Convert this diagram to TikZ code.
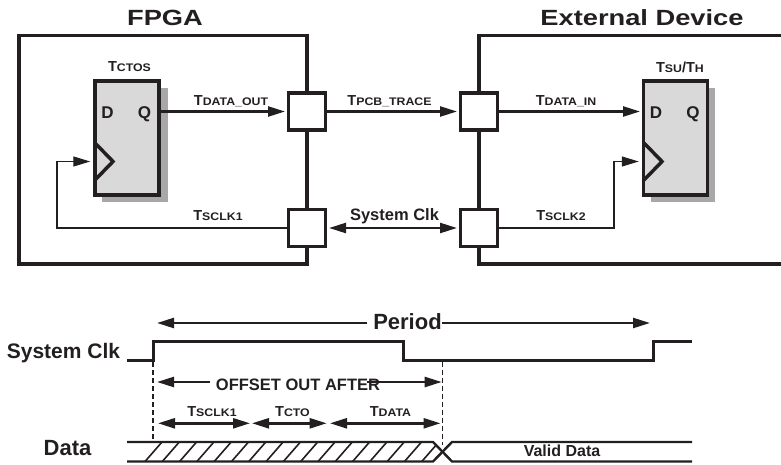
\documentclass[tikz,border=0pt]{standalone}
\usepackage{fontspec}
\setmainfont{Liberation Sans}
\newfontfamily\titlefam[FakeStretch=1.24]{Liberation Sans}
\newfontfamily\subfam[FakeStretch=1.12]{Liberation Sans}
\usetikzlibrary{arrows.meta}
\definecolor{ink}{HTML}{231F20}
\definecolor{fffill}{HTML}{D9D9D9}
\definecolor{ffshadow}{HTML}{A8A8A8}
\newcommand{\Tsub}[1]{{\bfseries\fontsize{14.5}{14.5}\selectfont T}{\subfam\bfseries\fontsize{11}{11}\selectfont #1}}
\newcommand{\Tslash}{{\bfseries\fontsize{14.5}{14.5}\selectfont /}}
\begin{document}
\begin{tikzpicture}[x=1pt,y=-1pt,color=ink,
  boxline/.style={draw=ink,line width=3.5pt},
  pad/.style={draw=ink,fill=white,line width=3.5pt,minimum size=37pt,inner sep=0pt},
  ffbox/.style={draw=ink,fill=fffill,line width=3.5pt,minimum width=64pt,minimum height=114pt,inner sep=0pt},
  tip/.tip={Triangle[length=17pt,width=10pt]},
  sig/.style={draw=ink,line width=2.4pt,-tip},
  dsig/.style={draw=ink,line width=2.4pt,tip-tip},
  thinsig/.style={draw=ink,line width=1.2pt,-tip},
  lbl/.style={text=ink,inner sep=0pt,anchor=base},
  title/.style={lbl,font=\titlefam\bfseries\fontsize{22}{22}\selectfont},
  wave/.style={draw=ink,line width=3pt,line join=miter},
  dataline/.style={draw=ink,line width=2.4pt},
  hatchln/.style={draw=ink,line width=1.6pt},
  dashln/.style={draw=ink,line width=1.5pt,dash pattern=on 5pt off 3pt}]
\useasboundingbox (0,0) rectangle (781,465);
\clip (0,0) rectangle (781,465);

% titles
\node[title] (t1) at (165,26) {FPGA};
\node[title] (t2) at (642,26) {External Device};

% device boxes
\draw[boxline] (19,35.5) rectangle (307,264);
\draw[boxline] (790,35.5) -- (479,35.5) -- (479,264) -- (790,264);

% flip-flops
\fill[ffshadow] (102,88) rectangle (168,202);
\node[ffbox] (ff1) at (127,138) {};
\fill[ffshadow] (651,88) rectangle (715,202);
\node[ffbox] (ff2) at (675.5,138) {};
\draw[ink,line width=3.5pt,line join=miter] (95,143) -- (113,161.5) -- (95,180);
\draw[ink,line width=3.5pt,line join=miter] (644,143) -- (662,161.5) -- (644,180);
\node[lbl,font=\bfseries\fontsize{17}{17}\selectfont] (d1) at (107.5,118.3) {D};
\node[lbl,font=\bfseries\fontsize{17}{17}\selectfont] (q1) at (144.5,118.3) {Q};
\node[lbl,font=\bfseries\fontsize{17}{17}\selectfont] (d2) at (656,118.3) {D};
\node[lbl,font=\bfseries\fontsize{17}{17}\selectfont] (q2) at (693,118.3) {Q};

% pads
\node[pad] (p1) at (307,111.5) {};
\node[pad] (p2) at (307,228) {};
\node[pad] (p3) at (479,111.5) {};
\node[pad] (p4) at (479,228) {};

% signals
\draw[sig,shorten >=1.75pt] (ff1.east |- p1) -- (p1.west);
\draw[sig,shorten >=1.75pt] (p1.east) -- (p3.west);
\draw[sig,shorten >=1.75pt] (p3.east) -- (ff2.west |- p3);
\draw[dsig,shorten >=1.75pt,shorten <=1.75pt] (p2.east) -- (p4.west);
\coordinate (c1) at (57,161.5);
\coordinate (c2) at (614,161.5);
\draw[thinsig,shorten >=3pt] (p2.west) -| (c1) -- (c1 -| ff1.west);
\draw[thinsig,shorten >=3pt] (p4.east) -| (c2) -- (c2 -| ff2.west);

% labels
\node[lbl] (lctos) at (129.5,72) {\Tsub{CTOS}};
\node[lbl] (lsuth) at (680,72.7) {\Tsub{SU}\Tslash\Tsub{H}};
\node[lbl] (ldout) at (231,106) {\Tsub{DATA\_OUT}};
\node[lbl] (lpcb) at (389.5,106) {\Tsub{PCB\_TRACE}};
\node[lbl] (ldin) at (566,106) {\Tsub{DATA\_IN}};
\node[lbl] (lsclk1) at (218,220) {\Tsub{SCLK1}};
\node[lbl] (lsclk2) at (561,220) {\Tsub{SCLK2}};
\node[lbl,font=\bfseries\fontsize{16.5}{16.5}\selectfont] (lsys) at (394.5,220) {System Clk};

% ---- timing diagram ----
\node[lbl,font=\bfseries\fontsize{21}{21}\selectfont] (sclk) at (63.5,358.3) {System Clk};
\node[lbl,font=\bfseries\fontsize{22}{22}\selectfont] (dlab) at (67.5,455) {Data};
\draw[wave] (127,360) -- (153,360) -- (153,341.7) -- (403,341.7) -- (403,360) -- (653,360) -- (653,341.7) -- (692,341.7);

% period
\node[lbl,font=\bfseries\fontsize{22}{22}\selectfont] (per) at (407.5,329.3) {Period};
\coordinate (perL) at (157,323);
\coordinate (perR) at (650,323);
\draw[sig] ([xshift=-6pt]per.west |- perL) -- (perL);
\draw[sig] (per.east |- perR) -- (perR);

% dashed
\draw[dashln] (153,362) -- (153,442);
\draw[dashln] (442.5,362) -- (442.5,445);

% offset out after
\node[lbl,font=\bfseries\fontsize{16.5}{16.5}\selectfont] (off) at (298,390) {OFFSET OUT AFTER};
\coordinate (offL) at (157,382);
\coordinate (offR) at (441.7,382);
\draw[sig] ([xshift=-6pt]off.west |- offL) -- (offL);
\draw[sig] ([xshift=-13pt]off.east |- offR) -- (offR);

% component delays
\node[lbl] (ts1) at (212,416) {\Tsub{SCLK1}};
\node[lbl] (ts2) at (292.5,416) {\Tsub{CTO}};
\node[lbl] (ts3) at (390.5,416) {\Tsub{DATA}};
\coordinate (a0) at (158,423.3);
\coordinate (a1) at (250,423.3);
\coordinate (a2) at (252,423.3);
\coordinate (a3) at (326.7,423.3);
\coordinate (a4) at (330,423.3);
\coordinate (a5) at (440.5,423.3);
\draw[dsig] (a0) -- (a1);
\draw[dsig] (a2) -- (a3);
\draw[dsig] (a4) -- (a5);

% data waveform
\draw[dataline] (127,442) -- (433,442) -- (452,461.5) -- (692,461.5);
\draw[dataline] (127,461.5) -- (433,461.5) -- (452,442) -- (692,442);
\begin{scope}
\clip (143,442) -- (433,442) -- (442.5,451.75) -- (433,461.5) -- (143,461.5) -- cycle;
\foreach \i in {0,...,17} \draw[hatchln] (145+17.3*\i,461.5) -- ++(17,-19.5);
\end{scope}
\node[lbl,font=\bfseries\fontsize{16}{16}\selectfont] (vd) at (562,456.7) {Valid Data};
\end{tikzpicture}
\end{document}
